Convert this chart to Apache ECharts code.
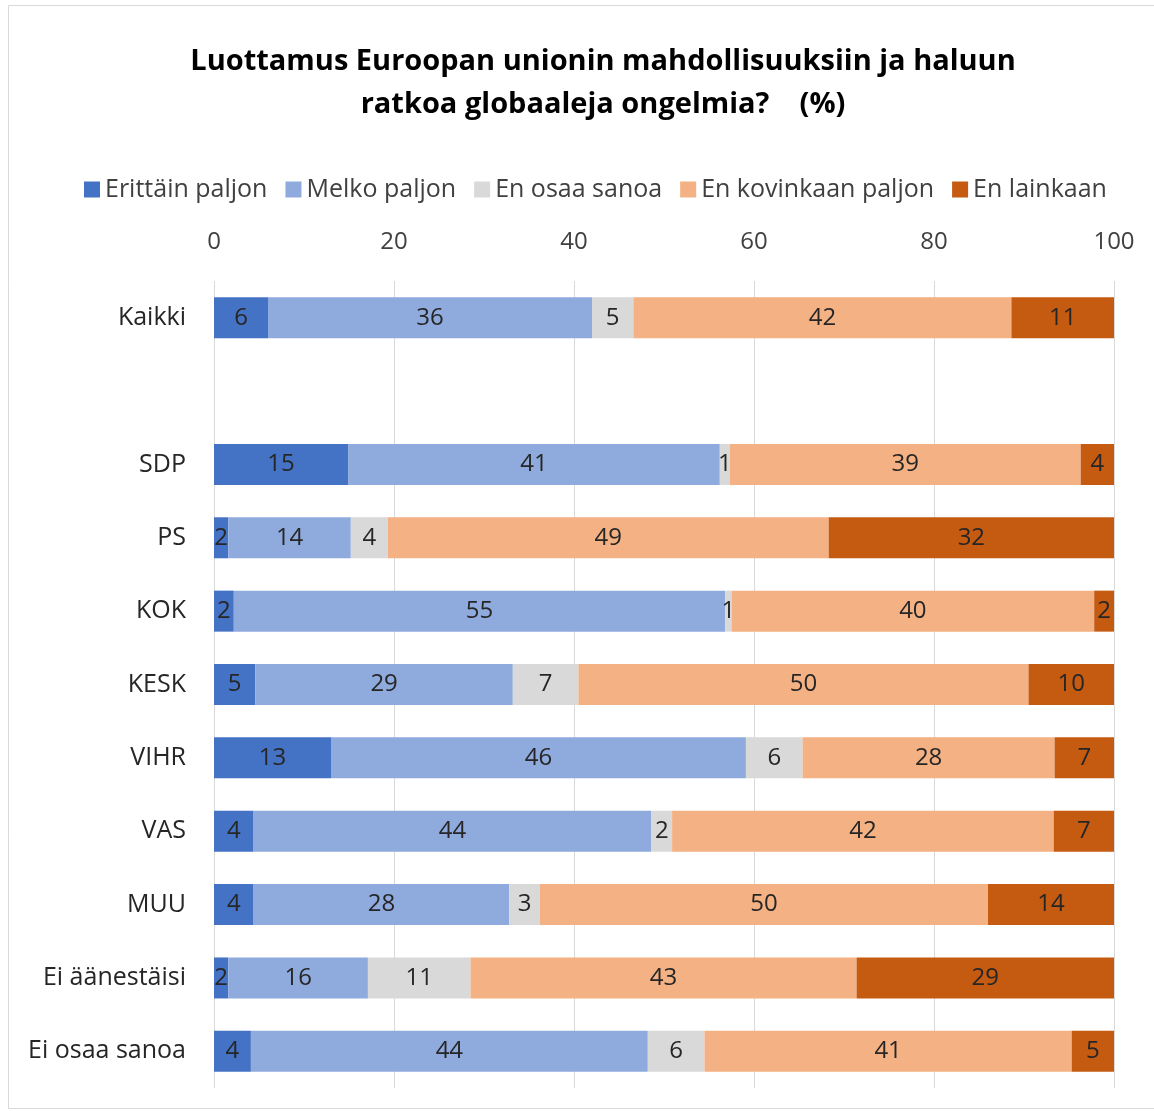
<!DOCTYPE html>
<html>
<head>
<meta charset="utf-8">
<script src="https://cdn.jsdelivr.net/npm/echarts@6/dist/echarts.min.js"></script>
<style>
html,body{margin:0;padding:0;background:#fff;}
#chart{width:1154px;height:1111px;}
</style>
</head>
<body>
<div id="chart"></div>
<script>
// Categories (top to bottom); '' is the empty spacer row
var categories = ['Kaikki', '', 'SDP', 'PS', 'KOK', 'KESK', 'VIHR', 'VAS', 'MUU', 'Ei äänestäisi', 'Ei osaa sanoa'];
var seriesNames = ['Erittäin paljon', 'Melko paljon', 'En osaa sanoa', 'En kovinkaan paljon', 'En lainkaan'];
// Values (%)
var erittainPaljon   = [6.0, null, 14.9, 1.6, 2.2, 4.6, 13.0, 4.4, 4.4, 1.6, 4.1];
var melkoPaljon      = [36.0, null, 41.3, 13.6, 54.6, 28.6, 46.1, 44.2, 28.4, 15.5, 44.1];
var enOsaaSanoa      = [4.6, null, 1.1, 4.1, 0.7, 7.3, 6.3, 2.3, 3.4, 11.4, 6.3];
var enKovinkaan      = [42.0, null, 39.0, 49.0, 40.3, 50.0, 28.0, 42.4, 49.8, 42.9, 40.8];
var enLainkaan       = [11.4, null, 3.7, 31.7, 2.2, 9.5, 6.6, 6.7, 14.0, 28.6, 4.7];
var xTicks = [0, 20, 40, 60, 80, 100];

var colors = ['#4472C4', '#8FAADC', '#D9D9D9', '#F4B183', '#C55A11'];
var allData = [erittainPaljon, melkoPaljon, enOsaaSanoa, enKovinkaan, enLainkaan];
var FONT = '"Open Sans"';

var chart = echarts.init(document.getElementById('chart'));
var series = seriesNames.map(function (name, i) {
  return {
    name: name,
    type: 'bar',
    stack: 'total',
    barWidth: 41,
    data: allData[i],
    itemStyle: { color: colors[i] },
    label: {
      show: true,
      position: 'inside',
      color: '#262626',
      fontFamily: FONT,
      fontSize: 24,
      formatter: function (p) { return p.value == null ? '' : Math.round(p.value); }
    },
    emphasis: { disabled: true }
  };
});

chart.setOption({
  animation: false,
  backgroundColor: '#fff',
  color: colors,
  graphic: [{
    type: 'rect',
    shape: { x: 8.5, y: 5.5, width: 1170, height: 1103 },
    style: { fill: 'none', stroke: '#D9D9D9', lineWidth: 1 },
    silent: true, z: -10
  }],
  title: {
    text: 'Luottamus Euroopan unionin mahdollisuuksiin ja haluun\nratkoa globaaleja ongelmia?    (%)',
    left: 598, top: 35, textAlign: 'center',
    textStyle: { fontFamily: FONT, fontWeight: 'bold', fontSize: 29, lineHeight: 43, color: '#000' }
  },
  legend: {
    data: seriesNames,
    top: 172, left: 79,
    itemWidth: 16, itemHeight: 16, itemGap: 18,
    icon: 'rect',
    textStyle: { fontFamily: FONT, fontSize: 25, color: '#404040' }
  },
  grid: { left: 214, right: 40, top: 281, bottom: 23, containLabel: false },
  xAxis: {
    type: 'value', position: 'top', min: 0, max: 100, interval: 20,
    axisLine: { show: false }, axisTick: { show: false },
    axisLabel: { fontFamily: FONT, fontSize: 24, color: '#404040', margin: 27,
      formatter: function (v) { return xTicks.indexOf(v) >= 0 ? String(v) : ''; } },
    splitLine: { show: true, lineStyle: { color: '#D9D9D9', width: 1 } }
  },
  yAxis: {
    type: 'category', data: categories, inverse: true,
    axisLine: { show: false }, axisTick: { show: false },
    axisLabel: { fontFamily: FONT, fontSize: 25, color: '#262626', margin: 28 }
  },
  series: series
});
</script>
</body>
</html>
